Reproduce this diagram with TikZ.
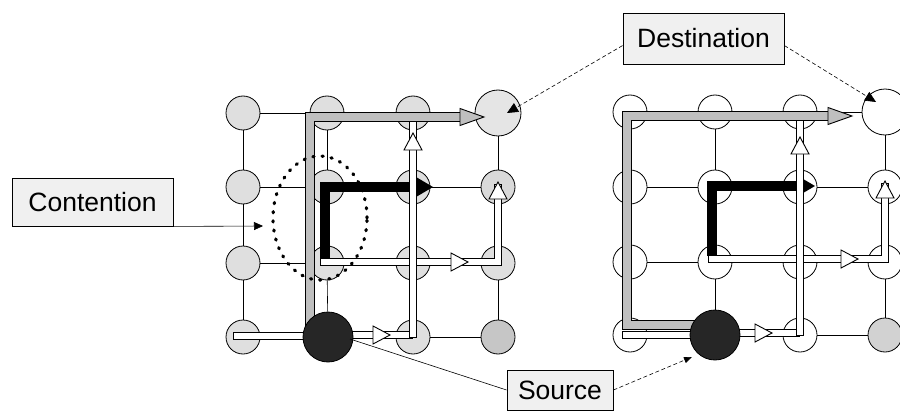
\documentclass[tikz,border=0pt]{standalone}
\usepackage{fontspec}
\setmainfont{Liberation Sans}
\usetikzlibrary{arrows.meta}
\pgfdeclarelayer{background}
\pgfsetlayers{background,main}
\newcommand\fatbar[4]{%
  \draw[line width=#2, line join=miter] #4;
  \draw[#1, line width=#3, line join=miter, shorten <=1pt, shorten >=1pt] #4;}
\tikzset{
  nd/.style={circle, draw, line width=0.8pt, minimum size=34pt, inner sep=0pt},
  dst/.style={nd, minimum size=46pt},
  srcnd/.style={nd, minimum size=50pt, fill=black!85},
  gridln/.style={line width=0.6pt},
  bbar/.style={draw=black, line width=10pt, line join=miter},
  lbl/.style={draw, line width=0.9pt, fill=gray!12, font=\fontsize{26.5}{30}\selectfont, inner sep=0pt},
  conn/.style={line width=0.6pt},
  dconn/.style={line width=0.6pt, dash pattern=on 4pt off 2.5pt},
  endtip/.style={-{Triangle[length=11pt,width=10pt]}},
  endtipsm/.style={-{Triangle[length=8pt,width=6pt]}},
  dotring/.style={line width=3.2pt, dash pattern=on 1.2pt off 8pt, line cap=round},
  pics/whd/.style={code={\draw[line width=0.9pt, fill=white, line join=miter] (0,0) -- (-17,9) -- (-17,-9) -- cycle;}},
  pics/bhd/.style={code={\fill (0,0) -- (-17,10) -- (-17,-10) -- cycle;}},
  pics/ghd/.style={code={\draw[line width=0.9pt, fill=gray!50, line join=miter] (0,0) -- (-24,8.5) -- (-24,-8.5) -- cycle;}},
}
\begin{document}
\begin{tikzpicture}[x=1pt,y=-1pt]
\useasboundingbox (0,0) rectangle (900,412);

% ---------- left grid nodes ----------
\node[nd, fill=gray!25] (a11) at (243,113) {};
\node[nd, fill=gray!25] (a12) at (327,113) {};
\node[nd, fill=gray!25] (a13) at (413,113) {};
\node[dst, fill=gray!20] (a14) at (498,113) {};
\node[nd, fill=gray!25] (a21) at (243,187) {};
\node[nd, fill=gray!25] (a22) at (327,187) {};
\node[nd, fill=gray!25] (a23) at (413,187) {};
\node[nd, fill=gray!30] (a24) at (498,187) {};
\node[nd, fill=gray!25] (a31) at (243,263) {};
\node[nd, fill=gray!25] (a32) at (327,263) {};
\node[nd, fill=gray!25] (a33) at (413,263) {};
\node[nd, fill=gray!25] (a34) at (498,263) {};
\node[nd, fill=gray!25] (a41) at (243,337) {};
\node[nd, fill=gray!25] (a43) at (413,337) {};
\node[nd, fill=gray!45] (a44) at (498,337) {};

% ---------- right grid nodes ----------
\node[nd, fill=white] (b11) at (630,112) {};
\node[nd, fill=white] (b12) at (715,112) {};
\node[nd, fill=white] (b13) at (800,112) {};
\node[dst, fill=white] (b14) at (885,112) {};
\node[nd, fill=white] (b21) at (630,187) {};
\node[nd, fill=white] (b22) at (715,187) {};
\node[nd, fill=white] (b23) at (800,187) {};
\node[nd, fill=white] (b24) at (885,187) {};
\node[nd, fill=white] (b31) at (630,262) {};
\node[nd, fill=white] (b32) at (715,262) {};
\node[nd, fill=white] (b33) at (800,262) {};
\node[nd, fill=white] (b34) at (885,262) {};
\node[nd, fill=white] (b41) at (630,335) {};
\node[nd, fill=white] (b43) at (800,335) {};
\node[nd, fill=gray!35] (b44) at (885,335) {};

% ---------- left routes ----------
\fatbar{white}{8.4pt}{6.4pt}{(233,336) -- (310,336)}
\draw[bbar] (325,259) -- (325,187) -- (418,187);
\pic at (433,187) {bhd};
\fatbar{white}{8.4pt}{6.4pt}{(320,262) -- (498,262) -- (498,184)}
\pic at (468,262) {whd};
\pic[rotate=90] at (498,182) {whd};
\fatbar{white}{8.4pt}{6.4pt}{(350,335) -- (413,335)}
\pic at (390,335) {whd};
\fatbar{white}{8.4pt}{6.4pt}{(413,338) -- (413,121)}
\pic[rotate=90] at (413,133) {whd};
\fatbar{gray!50}{10pt}{8pt}{(310,328) -- (310,117) -- (462,117)}
\pic at (484,117) {ghd};

% ---------- right routes ----------
\fatbar{white}{8.4pt}{6.4pt}{(622,335) -- (700,335)}
\draw[bbar] (712,256) -- (712,186) -- (800,186);
\pic at (815,186) {bhd};
\fatbar{white}{8.4pt}{6.4pt}{(708,259) -- (885,259) -- (885,183)}
\pic at (858,259) {whd};
\pic[rotate=90] at (885,181) {whd};
\fatbar{white}{8.4pt}{6.4pt}{(738,333) -- (800,333)}
\pic at (772,333) {whd};
\fatbar{white}{8.4pt}{6.4pt}{(800,336) -- (800,120)}
\pic[rotate=90] at (800,137) {whd};
\fatbar{gray!50}{10pt}{8pt}{(700,325) -- (627,325) -- (627,116) -- (830,116)}
\pic at (852,116) {ghd};

% ---------- sources ----------
\node[srcnd] (a42) at (328,337) {};
\node[srcnd] (b42) at (715,335) {};

% ---------- contention ring ----------
\draw[dotring] (320,218) ellipse [x radius=47pt, y radius=62pt];

% ---------- labels ----------
\node[lbl, minimum width=161pt, minimum height=48pt] (cont) at (92.5,202) {Contention};
\node[lbl, minimum width=161pt, minimum height=51pt] (dest) at (703.5,38.5) {Destination};
\node[lbl, minimum width=106pt, minimum height=40pt] (src) at (560,390) {Source};

\coordinate (ctip) at (263,226);
\coordinate (dtl) at (507,113);
\coordinate (dtr) at (876,102);
\coordinate (stl) at (350,339);
\coordinate (str) at (692,357);

\draw[conn, -{Triangle[length=9pt,width=8pt]}] (cont.south east) -- (ctip);
\draw[dconn, endtip] (dest.185) -- (dtl);
\draw[dconn, endtip] (dest.355) -- (dtr);
\draw[conn] (src.west) -- (stl);
\draw[dconn, endtipsm] (src.east) -- (str);

% ---------- grid links ----------
\begin{pgfonlayer}{background}
\foreach \g in {a,b}{
  \foreach \r in {1,2,3,4}{
    \foreach \c/\d in {1/2,2/3,3/4}{
      \draw[gridln] (\g\r\c) -- (\g\r\d);
      \draw[gridln] (\g\c\r) -- (\g\d\r);
    }
  }
}
\end{pgfonlayer}
\end{tikzpicture}
\end{document}
